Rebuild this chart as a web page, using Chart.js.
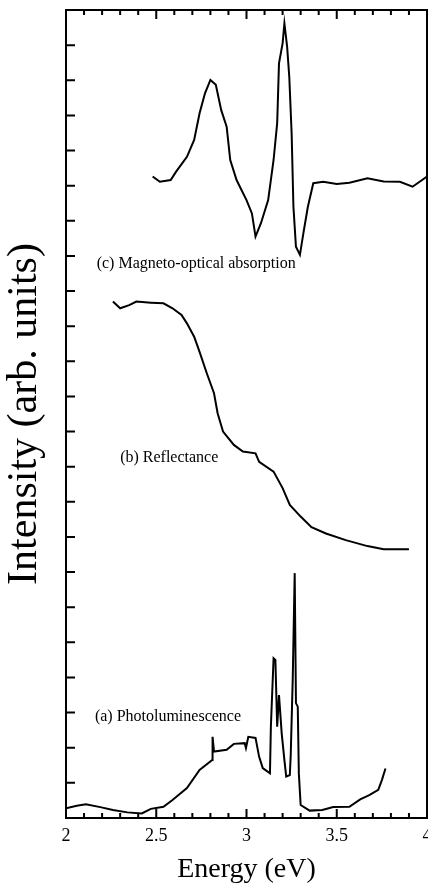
<!DOCTYPE html>
<html>
<head>
<meta charset="utf-8">
<script src="https://cdn.jsdelivr.net/npm/chart.js@4"></script>
<style>
  html, body { margin: 0; background: #fff; }
  #wrap { width: 428px; height: 886px; }
</style>
</head>
<body>
<div id="wrap"><canvas id="chart"></canvas></div>
<script>
// (a) photoluminescence - bottom curve
const plEnergy = [2.00, 2.06, 2.11, 2.19, 2.26, 2.34, 2.42, 2.47, 2.54, 2.59, 2.67, 2.74, 2.81, 2.812, 2.82, 2.89, 2.93, 2.99, 2.997, 3.01, 3.05, 3.07, 3.09, 3.13, 3.135, 3.15, 3.16, 3.17, 3.18, 3.195, 3.21, 3.22, 3.24, 3.245, 3.256, 3.267, 3.274, 3.284, 3.29, 3.30, 3.35, 3.42, 3.48, 3.57, 3.63, 3.68, 3.73, 3.75, 3.77];
const plValues = [0.28, 0.35, 0.39, 0.31, 0.23, 0.16, 0.13, 0.26, 0.32, 0.51, 0.85, 1.37, 1.65, 2.31, 1.89, 1.94, 2.11, 2.13, 1.99, 2.31, 2.28, 1.74, 1.42, 1.27, 2.60, 4.55, 4.50, 2.60, 3.50, 2.41, 1.65, 1.18, 1.22, 1.79, 3.93, 6.97, 3.27, 3.17, 1.27, 0.37, 0.21, 0.23, 0.31, 0.32, 0.53, 0.65, 0.80, 1.08, 1.41];

// (b) reflectance - middle curve
const reflEnergy = [2.26, 2.30, 2.35, 2.39, 2.47, 2.54, 2.59, 2.64, 2.67, 2.71, 2.74, 2.78, 2.82, 2.84, 2.87, 2.93, 2.98, 3.05, 3.07, 3.15, 3.20, 3.24, 3.30, 3.36, 3.44, 3.55, 3.67, 3.76, 3.90];
const reflValues = [14.70, 14.51, 14.60, 14.70, 14.67, 14.65, 14.51, 14.32, 14.08, 13.70, 13.27, 12.66, 12.09, 11.52, 11.00, 10.62, 10.43, 10.38, 10.14, 9.86, 9.39, 8.91, 8.58, 8.28, 8.10, 7.91, 7.74, 7.65, 7.65];

// (c) absorption - top curve
const absEnergy = [2.48, 2.52, 2.58, 2.61, 2.67, 2.71, 2.74, 2.77, 2.80, 2.83, 2.86, 2.89, 2.91, 2.945, 3.00, 3.03, 3.05, 3.08, 3.12, 3.15, 3.17, 3.18, 3.20, 3.21, 3.225, 3.237, 3.25, 3.26, 3.274, 3.296, 3.315, 3.34, 3.37, 3.425, 3.50, 3.57, 3.67, 3.76, 3.85, 3.92, 4.00];
const absValues = [18.26, 18.11, 18.16, 18.40, 18.82, 19.30, 20.06, 20.63, 21.01, 20.87, 20.15, 19.68, 18.73, 18.16, 17.59, 17.21, 16.55, 16.93, 17.59, 18.73, 19.78, 21.48, 22.05, 22.62, 21.96, 21.10, 19.49, 17.40, 16.26, 16.03, 16.64, 17.40, 18.07, 18.11, 18.05, 18.08, 18.21, 18.12, 18.11, 17.97, 18.26];

const xTickLabels = ['2', '2.5', '3', '3.5', '4'];

const notes = [
    { text: '(c) Magneto-optical absorption', e: 2.17, v: 15.77 },
    { text: '(b) Reflectance', e: 2.30, v: 10.25 },
    { text: '(a) Photoluminescence', e: 2.16, v: 2.87 }
];

const SERIF = '"Liberation Serif", "DejaVu Serif", serif';

function toPoints(xs, ys) {
    return xs.map((x, i) => ({ x: x, y: ys[i] }));
}

// frame, inward tick marks and curve labels
const framePlugin = {
    id: 'frame',
    afterDraw(chart) {
        const { ctx, chartArea: a, scales: { x, y } } = chart;
        ctx.save();
        ctx.strokeStyle = '#000';
        ctx.lineWidth = 2;
        ctx.strokeRect(a.left, a.top, a.right - a.left, a.bottom - a.top);

        ctx.beginPath();
        for (let i = 0; i <= 20; i++) {
            const px = x.getPixelForValue(2 + i * 0.1);
            const len = i % 5 === 0 ? 9 : 5;
            ctx.moveTo(px, a.bottom); ctx.lineTo(px, a.bottom - len);
            ctx.moveTo(px, a.top); ctx.lineTo(px, a.top + len);
        }
        for (let v = 1; v < 23; v++) {
            const py = y.getPixelForValue(v);
            ctx.moveTo(a.left, py); ctx.lineTo(a.left + 9, py);
        }
        ctx.stroke();

        ctx.fillStyle = '#000';
        ctx.font = '16px ' + SERIF;
        ctx.textBaseline = 'middle';
        ctx.textAlign = 'left';
        notes.forEach(n => ctx.fillText(n.text, x.getPixelForValue(n.e), y.getPixelForValue(n.v)));
        ctx.restore();
    }
};

const lineStyle = { borderColor: '#000', borderWidth: 2, pointRadius: 0, tension: 0, fill: false };

new Chart(document.getElementById('chart').getContext('2d'), {
    type: 'line',
    data: {
        datasets: [
            { label: 'Photoluminescence', data: toPoints(plEnergy, plValues), ...lineStyle },
            { label: 'Reflectance', data: toPoints(reflEnergy, reflValues), ...lineStyle },
            { label: 'Absorption', data: toPoints(absEnergy, absValues), ...lineStyle }
        ]
    },
    options: {
        responsive: true,
        maintainAspectRatio: false,
        animation: false,
        layout: { padding: { top: 10, right: 1, left: 0, bottom: 0 } },
        plugins: { legend: { display: false }, tooltip: { enabled: false } },
        scales: {
            x: {
                type: 'linear', min: 2, max: 4,
                grid: { display: false, drawTicks: false },
                border: { display: false },
                ticks: {
                    stepSize: 0.5, padding: 7, color: '#000',
                    font: { family: SERIF, size: 18 },
                    callback: (v, i) => xTickLabels[i]
                },
                title: { display: true, text: 'Energy (eV)', color: '#000', padding: 0, font: { family: SERIF, size: 28 } },
                afterFit: s => { s.height = 68; s.paddingLeft = 0; s.paddingRight = 0; }
            },
            y: {
                min: 0, max: 23,
                grid: { display: false, drawTicks: false },
                border: { display: false },
                ticks: { display: false },
                title: { display: true, text: 'Intensity (arb. units)', color: '#000', padding: 0, font: { family: SERIF, size: 42 } },
                afterFit: s => { s.width = 66; s.paddingTop = 0; s.paddingBottom = 0; }
            }
        }
    },
    plugins: [framePlugin]
});
</script>
</body>
</html>
